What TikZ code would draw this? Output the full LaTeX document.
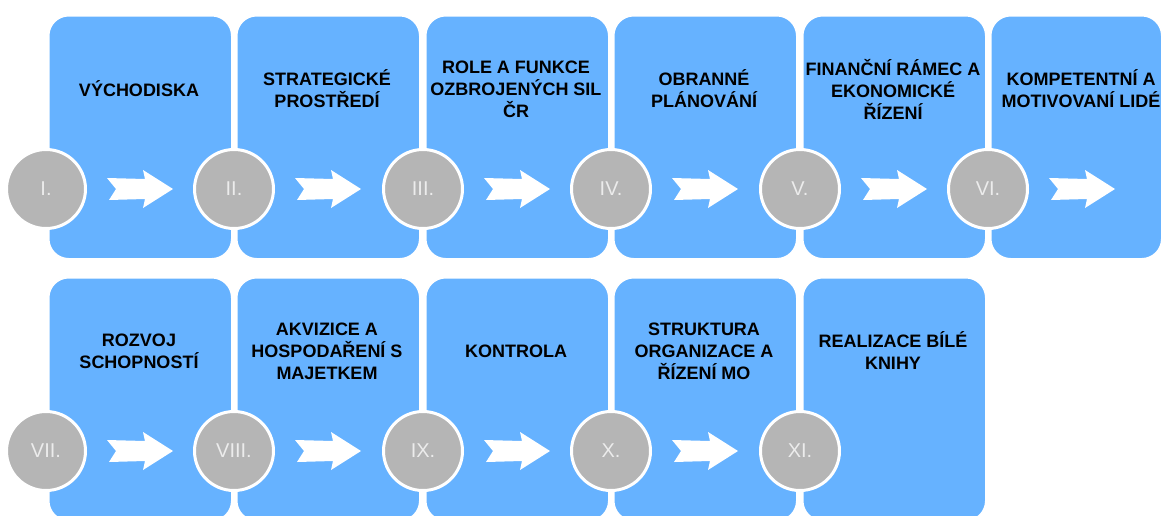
\documentclass[tikz,border=0pt]{standalone}
\usepackage{fontspec}
\setmainfont{Liberation Sans}
\usetikzlibrary{positioning}

\definecolor{boxblue}{RGB}{102,178,255}
\definecolor{numgray}{RGB}{181,181,181}
\definecolor{numtext}{RGB}{236,236,236}

\begin{document}
\begin{tikzpicture}[x=1pt,y=-1pt,
    stepbox/.style={draw=white, line width=1.5pt, fill=boxblue, rounded corners=20pt,
      minimum height=243pt, inner sep=0pt, anchor=north west},
    steptext/.style={align=center, text=black, font=\fontsize{18}{22}\selectfont\bfseries},
    stepnum/.style={circle, draw=white, line width=3pt, fill=numgray, minimum size=79pt,
      inner sep=0pt, text=numtext, font=\fontsize{20}{24}\selectfont}]

    % Page
    \clip (0,0) rectangle (1162,515);

    % Steps: box, title, number and arrow
    \foreach \i/\x/\y/\w/\n/\txt in {
        1/48/15/183/I./{VÝCHODISKA},
        2/236/15/183/II./{STRATEGICKÉ\\PROSTŘEDÍ},
        3/425/15/183/III./{ROLE A FUNKCE\\OZBROJENÝCH SIL\\ČR},
        4/613/15/183/IV./{OBRANNÉ\\PLÁNOVÁNÍ},
        5/802/15/183/V./{FINANČNÍ RÁMEC A\\EKONOMICKÉ\\ŘÍZENÍ},
        6/990/15/171/VI./{KOMPETENTNÍ A\\MOTIVOVANÍ LIDÉ},
        7/48/277/183/VII./{ROZVOJ\\SCHOPNOSTÍ},
        8/236/277/183/VIII./{AKVIZICE A\\HOSPODAŘENÍ S\\MAJETKEM},
        9/425/277/183/IX./{KONTROLA},
        10/613/277/183/X./{STRUKTURA\\ORGANIZACE A\\ŘÍZENÍ MO},
        11/802/277/183/XI./{REALIZACE BÍLÉ\\KNIHY}} {
      \node[stepbox, minimum width=\w pt] (box\i) at (\x,\y) {};
      \node[steptext] (title\i) at (\x+91,\y+74) {\txt};
      \node[stepnum] (num\i) at (\x-2,\y+174) {\n};

      % Arrow inside the box
      \ifnum\i<11
        \fill[white, shift={(num\i.center)}] (61,-11) -- (99,-10) -- (97,-19) -- (127,0)
          -- (97,19) -- (99,10) -- (63,11) -- (70,0) -- cycle;
      \fi
    }

\end{tikzpicture}
\end{document}
